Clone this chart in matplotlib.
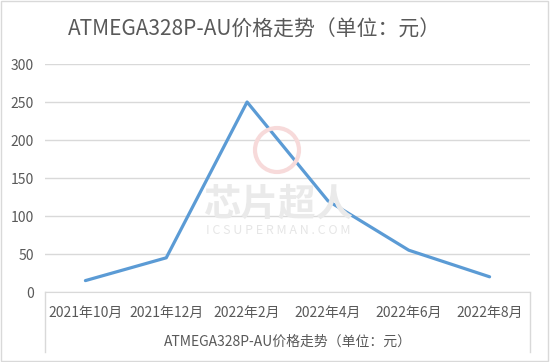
import matplotlib.pyplot as plt
from matplotlib.patches import Circle, Rectangle

plt.rcParams['font.family'] = ['Noto Sans CJK SC', 'DejaVu Sans']

months = ['2021年10月', '2021年12月', '2022年2月', '2022年4月', '2022年6月', '2022年8月']
prices = [15, 45, 250, 120, 55, 20]
yticks = [0, 50, 100, 150, 200, 250, 300]
title = 'ATMEGA328P-AU价格走势（单位：元）'

W, H = 550, 362
fig = plt.figure(figsize=(5.5, 3.62), dpi=100)
ax = fig.add_axes([45 / W, 1 - 292 / H, 485 / W, 228 / H])

# outer frame of the chart
fig.patches.append(Rectangle((0.002, 0.003), 0.995, 0.994, transform=fig.transFigure,
                             fill=False, ec='#D9D9D9', lw=1))

# watermark
fig.patches.append(Circle((2.77, (H - 150) / 100), 0.22, transform=fig.dpi_scale_trans,
                          fill=False, ec='#F7DADA', lw=3, zorder=0))
fig.text(278 / W, 1 - 204 / H, '芯片超人', ha='center', va='center', fontsize=27,
         fontweight='bold', style='italic', color='#EAEAEA', zorder=0)
fig.text(278 / W, 1 - 231 / H, 'I C S U P E R M A N . C O M', ha='center', va='center',
         fontsize=9, color='#E6E6E6', zorder=0)

x = range(len(months))
ax.plot(x, prices, color='#5B9BD5', lw=2.3, solid_capstyle='round', zorder=3)

ax.set_xlim(-0.5, len(months) - 0.5)
ax.set_ylim(0, 300)
ax.set_yticks(yticks)
ax.set_xticks(list(x))
ax.set_xticklabels(months)
ax.patch.set_alpha(0)
ax.grid(axis='y', color='#D9D9D9', lw=1)
ax.set_axisbelow(True)
for s in ['left', 'right', 'top']:
    ax.spines[s].set_visible(False)
ax.spines['bottom'].set_color('#D9D9D9')
ax.tick_params(length=0, labelsize=10, colors='#595959')
ax.tick_params(axis='x', pad=10)
ax.tick_params(axis='y', pad=8)

# side borders of the category area
for xs in (0, 1):
    ax.plot([xs, xs], [0, -60 / 228], transform=ax.transAxes, color='#D9D9D9',
            lw=1, clip_on=False)

ax.set_xlabel(title, fontsize=10, color='#595959', labelpad=11)
fig.text(254 / W, 1 - 30 / H, title, ha='center', va='center', fontsize=15, color='#595959')

fig.savefig('out.png', dpi=100)
